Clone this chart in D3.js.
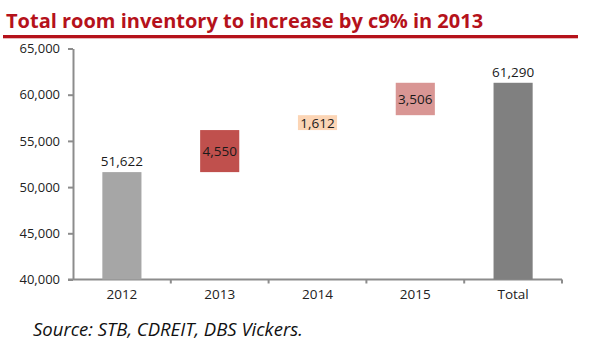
<!DOCTYPE html>
<html>
<head>
<meta charset="utf-8">
<script src="https://cdn.jsdelivr.net/npm/d3@7"></script>
<style>
  body { margin: 0; background: #fff; }
  svg { display: block; }
  .axis text { font-family: "Open Sans", "DejaVu Sans", sans-serif; font-size: 13px; fill: #222; }
  .axis path, .axis line { stroke: #8c8c8c; stroke-width: 2px; }
</style>
</head>
<body>
<div id="chart"></div>
<script>
'use strict';

var categories = ['2012', '2013', '2014', '2015', 'Total'];
var values = [51622, 4550, 1612, 3506, 61290];
var kinds = ['total', 'step', 'step', 'step', 'total'];
var barColors = ['#a6a6a6', '#c0504d', '#fcd5b5', '#d99694', '#808080'];
var yTicks = [40000, 45000, 50000, 55000, 60000, 65000];

var width = 590, height = 344;
var margin = { left: 73, right: 28, top: 48.5, bottom: 64.5 };

var svg = d3.select('#chart').append('svg')
  .attr('width', width)
  .attr('height', height);

// title and rule
svg.append('text')
  .attr('x', 6)
  .attr('y', 28)
  .style('font-family', '"Open Sans", "DejaVu Sans", sans-serif')
  .style('font-weight', 'bold')
  .style('font-size', '20px')
  .style('fill', '#b5121b')
  .text('Total room inventory to increase by c9% in 2013');

svg.append('rect')
  .attr('x', 3)
  .attr('y', 35)
  .attr('width', 575)
  .attr('height', 3.3)
  .style('fill', '#b5121b');

var x = d3.scaleBand()
  .domain(categories)
  .range([margin.left, width - margin.right])
  .paddingInner(0.6)
  .paddingOuter(0.3);

var y = d3.scaleLinear()
  .domain([40000, 65000])
  .range([height - margin.bottom, margin.top]);

// running base for the step boxes
var running = 0;
var rows = categories.map(function(c, i) {
  var lo, hi;
  if (kinds[i] === 'total') { lo = 40000; hi = values[i]; running = values[i]; }
  else { lo = running; hi = running + values[i]; running = hi; }
  return { cat: c, value: values[i], kind: kinds[i], lo: lo, hi: hi, color: barColors[i] };
});

svg.append('g')
  .attr('class', 'axis')
  .attr('transform', 'translate(' + margin.left + ',0)')
  .call(d3.axisLeft(y).tickValues(yTicks).tickSize(5).tickPadding(8).tickFormat(d3.format(',')).tickSizeOuter(0));

var bounds = categories.map(function(c) {
  return x(c) + x.bandwidth() + x.step() * x.paddingInner() / 2;
});
bounds[bounds.length - 1] = width - margin.right;

var xAxis = svg.append('g')
  .attr('class', 'axis')
  .attr('transform', 'translate(0,' + (height - margin.bottom) + ')');

xAxis.append('line')
  .attr('x1', margin.left - 5)
  .attr('x2', width - margin.right)
  .attr('y1', 0).attr('y2', 0);

xAxis.selectAll('line.tick')
  .data(bounds)
  .enter().append('line')
  .attr('class', 'tick')
  .attr('x1', function(d) { return d; })
  .attr('x2', function(d) { return d; })
  .attr('y1', 0).attr('y2', 4);

xAxis.selectAll('text')
  .data(categories)
  .enter().append('text')
  .attr('x', function(d) { return x(d) + x.bandwidth() / 2; })
  .attr('y', 19)
  .attr('text-anchor', 'middle')
  .style('font-size', '13.5px')
  .text(function(d) { return d; });

svg.selectAll('rect.bar')
  .data(rows)
  .enter().append('rect')
  .attr('class', 'bar')
  .attr('x', function(d) { return x(d.cat); })
  .attr('width', x.bandwidth())
  .attr('y', function(d) { return y(d.hi); })
  .attr('height', function(d) { return y(d.lo) - y(d.hi); })
  .style('fill', function(d) { return d.color; });

svg.selectAll('text.val')
  .data(rows)
  .enter().append('text')
  .attr('class', 'val')
  .attr('x', function(d) { return x(d.cat) + x.bandwidth() / 2; })
  .attr('y', function(d) {
    return d.kind === 'total' ? y(d.hi) - 6 : (y(d.hi) + y(d.lo)) / 2 + 5;
  })
  .attr('text-anchor', 'middle')
  .style('font-family', '"Open Sans", "DejaVu Sans", sans-serif')
  .style('font-size', '13.5px')
  .style('fill', '#1a1a1a')
  .text(function(d) { return d3.format(',')(d.value); });

svg.append('text')
  .attr('x', 33)
  .attr('y', 336)
  .style('font-family', '"Open Sans", "DejaVu Sans", sans-serif')
  .style('font-style', 'italic')
  .style('font-size', '18.5px')
  .style('fill', '#111')
  .text('Source: STB, CDREIT, DBS Vickers.');
</script>
</body>
</html>
